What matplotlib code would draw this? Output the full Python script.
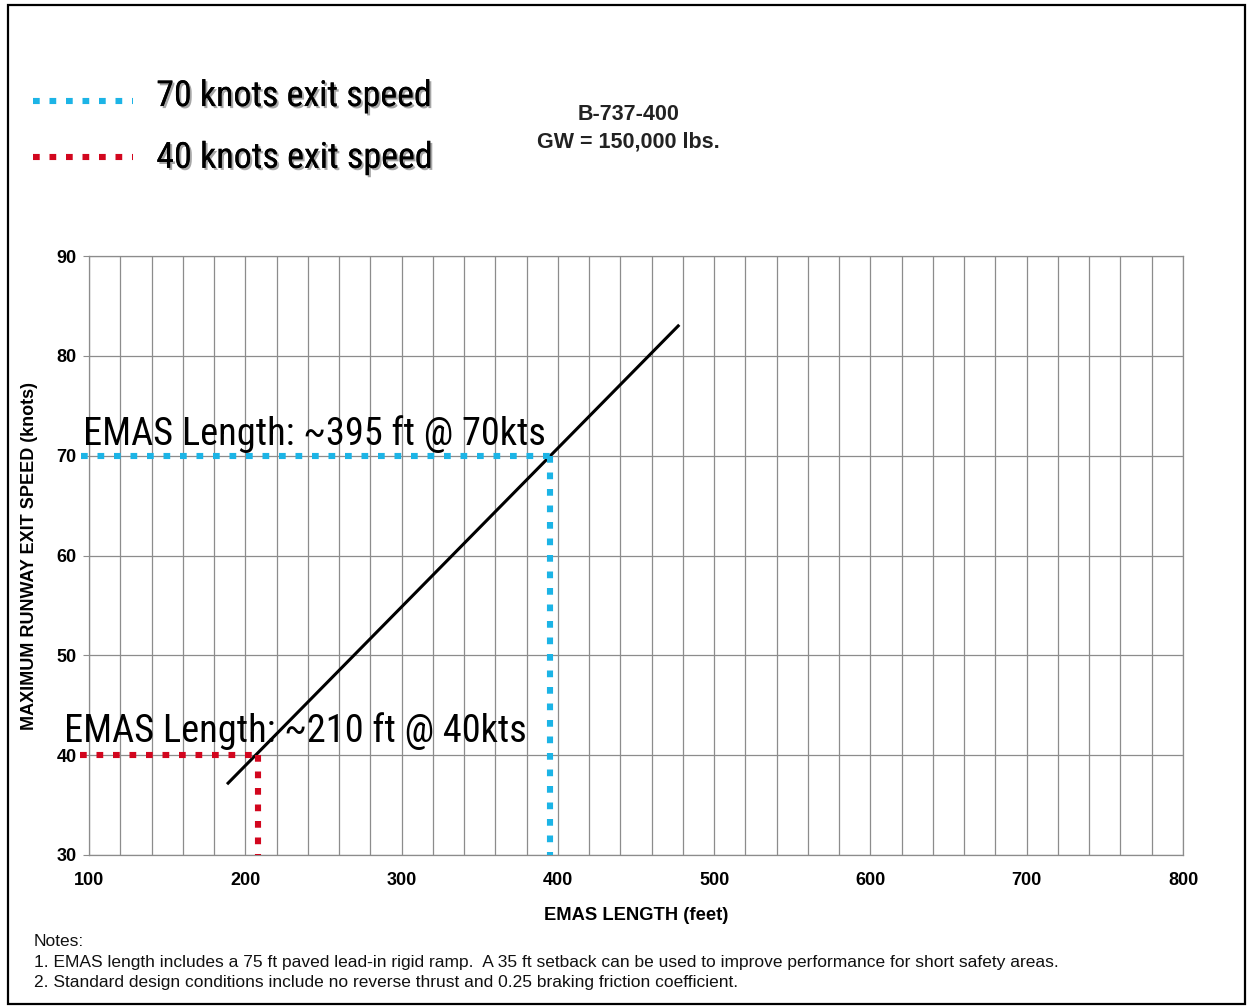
import matplotlib.pyplot as plt
import matplotlib.patheffects as pe
from matplotlib import font_manager as fm
from matplotlib.patches import Rectangle

# data
emas_x = [189, 477]
speed_y = [37.2, 83.0]
x70, y70 = 395, 70
x40, y40 = 208, 40
xticks = [100, 200, 300, 400, 500, 600, 700, 800]
yticks = [30, 40, 50, 60, 70, 80, 90]
legend_labels = ["70 knots exit speed", "40 knots exit speed"]
notes = ["Notes:",
         "1. EMAS length includes a 75 ft paved lead-in rigid ramp.  A 35 ft setback can be used to improve performance for short safety areas.",
         "2. Standard design conditions include no reverse thrust and 0.25 braking friction coefficient."]

blue = "#1cb4e6"
red = "#d2061e"
shadow = [pe.withSimplePatchShadow(offset=(1.5, -1.5), alpha=0.35), pe.Normal()]


# pick a narrow face if one is installed
def pick_narrow():
    for fam, st in [("Liberation Sans Narrow", "normal"), ("Roboto Condensed", "normal"),
                    ("DejaVu Sans", "condensed"), ("Roboto", "normal")]:
        try:
            path = fm.findfont(fm.FontProperties(family=fam, stretch=st), fallback_to_default=False)
        except Exception:
            continue
        if fam != "DejaVu Sans" or "Condensed" in path:
            return fam, st
    return "DejaVu Sans", "normal"


narrow_fam, narrow_st = pick_narrow()

fig = plt.figure(figsize=(12.5, 10.08), dpi=100)
ax = fig.add_axes([0.0712, 0.1518, 0.8752, 0.5942])

ax.set_xlim(100, 800)
ax.set_ylim(30, 90)
ax.set_xticks(xticks)
ax.set_xticks(range(100, 801, 20), minor=True)
ax.set_yticks(yticks)
ax.grid(True, which="both", color="#8c8c8c", lw=0.9)
ax.set_axisbelow(True)
ax.tick_params(axis="x", which="both", length=0, pad=12, labelsize=13)
ax.set_xticklabels([str(v) for v in xticks], fontweight="bold", family="Liberation Sans")
ax.tick_params(axis="y", length=4, color="#8c8c8c", pad=5, labelsize=13)
ax.set_yticklabels([str(v) for v in yticks], fontweight="bold", family="Liberation Sans")
for s in ax.spines.values():
    s.set_color("#8c8c8c")
    s.set_linewidth(0.9)

ax.set_xlabel("EMAS LENGTH (feet)", fontsize=13.2, fontweight="bold", family="Liberation Sans", labelpad=13)
ax.set_ylabel("MAXIMUM RUNWAY EXIT SPEED (knots)", fontsize=13, fontweight="bold",
              family="Liberation Sans", labelpad=13)

# performance line
ax.plot(emas_x, speed_y, color="black", lw=2.2, zorder=3)

# dotted guide lines
dot = dict(lw=4.4, dashes=(1.1, 1.6), dash_capstyle="butt", clip_on=False, zorder=4)
ax.plot([95, x70], [y70, y70], color=blue, **dot)
ax.plot([x70, x70], [y70, 30], color=blue, **dot)
ax.plot([94, x40], [y40, y40], color=red, **dot)
ax.plot([x40, x40], [y40, 30], color=red, **dot)

big = dict(family=narrow_fam, stretch=narrow_st, fontsize=29)
t1 = ax.text(96, 71.1, "EMAS Length: ~395 ft @ 70kts", ha="left", va="baseline", zorder=5, **big)
t2 = ax.text(84, 41.3, "EMAS Length: ~210 ft @ 40kts", ha="left", va="baseline", zorder=5, **big)

# legend at the top
leg_texts = []
for yy, ty, col, lab in [(0.9, 0.8948, blue, legend_labels[0]), (0.844, 0.8335, red, legend_labels[1])]:
    fig.add_artist(plt.Line2D([0.026, 0.106], [yy, yy], color=col, lw=4.4,
                              dashes=(1.1, 1.6), dash_capstyle="butt"))
    leg_texts.append(fig.text(0.125, ty, lab, va="baseline", ha="left",
                              path_effects=shadow, **big))

fig.text(0.503, 0.886, "B-737-400", fontsize=15.5, fontweight="bold", family="Liberation Sans",
         ha="center", va="center", color="#222222")
fig.text(0.503, 0.859, "GW = 150,000 lbs.", fontsize=15.5, fontweight="bold", family="Liberation Sans",
         ha="center", va="center", color="#222222")

for i, line in enumerate(notes):
    fig.text(0.027, 0.066 - i * 0.0205, line, fontsize=12.5, family="Liberation Sans",
             ha="left", va="center", color="#111111")

# outer frame
fig.add_artist(Rectangle((0.006, 0.004), 0.99, 0.991, transform=fig.transFigure,
                         fill=False, edgecolor="black", lw=1.6))

# squeeze the big labels to the width they have in the original
fig.canvas.draw()
r = fig.canvas.get_renderer()
for t, w in [(t1, 464), (t2, 463), (leg_texts[0], 276), (leg_texts[1], 277)]:
    cur = t.get_window_extent(r).width
    t.set_fontsize(t.get_fontsize() * w / cur)

fig.savefig("out.png", dpi=100)
